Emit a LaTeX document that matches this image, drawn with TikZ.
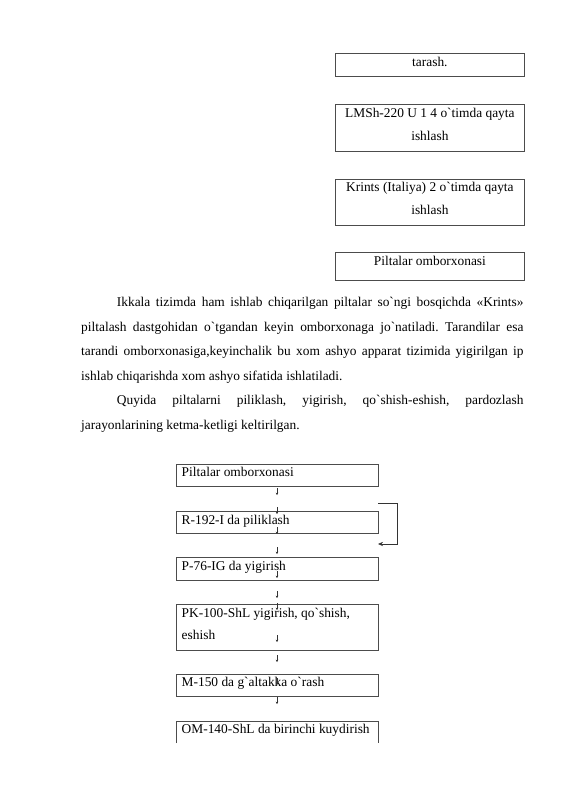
\documentclass[tikz,border=0pt]{standalone}
\usepackage{fontspec}
\setmainfont{Liberation Serif}[Ligatures=TeXOff]
\usetikzlibrary{arrows.meta}
\frenchspacing
\begin{document}
\begin{tikzpicture}[x=1pt,y=-1pt,
  font=\fontsize{13.4}{16}\selectfont,
  box/.style={draw=black!70, line width=0.7pt, rectangle, inner sep=0pt, minimum width=188.3pt},
  lbox/.style={draw=black!70, line width=0.7pt, rectangle, inner sep=0pt, minimum width=201.3pt},
  tinyarrow/.style={-{Stealth[length=2.4pt,width=2.6pt]}, line width=0.4pt, black!80},
  fbline/.style={-{Stealth[length=5pt,width=4.2pt]}, line width=0.6pt, black!80},
  ltxt/.style={anchor=base west, inner sep=0pt},
  ctxt/.style={anchor=base, inner sep=0pt}]
\useasboundingbox[fill=white] (0,0) rectangle (565,800);

% ---- upper boxes ----
\node[box, minimum height=23.4pt] (ba) at (429.9,65) {};
\node[ctxt] (ta) at (429.9,66.7) {tarash.};
\node[box, minimum height=46.7pt] (bb) at (429.9,127.7) {};
\node[ctxt] (tb1) at (429.9,117.3) {LMSh-220 U 1 4 o`timda qayta};
\node[ctxt] (tb2) at (429.9,140) {ishlash};
\node[box, minimum height=46pt] (bc) at (429.9,202) {};
\node[ctxt] (tc1) at (429.9,191.7) {Krints (Italiya) 2 o`timda qayta};
\node[ctxt] (tc2) at (429.9,214) {ishlash};
\node[box, minimum height=27.7pt] (bd) at (429.9,266.2) {};
\node[ctxt] (td) at (429.9,265.5) {Piltalar omborxonasi};

% ---- paragraph ----
\node[ltxt] (p1) at (116.7,306.7) {\makebox[406.6pt][s]{Ikkala tizimda ham ishlab chiqarilgan piltalar so`ngi bosqichda «Krints»}};
\node[ltxt] (p2) at (81,331) {\makebox[442.3pt][s]{piltalash dastgohidan o`tgandan keyin omborxonaga jo`natiladi. Tarandilar esa}};
\node[ltxt] (p3) at (81,355.5) {\makebox[442.3pt][s]{tarandi omborxonasiga,keyinchalik bu xom ashyo apparat tizimida yigirilgan ip}};
\node[ltxt] (p4) at (81,380) {ishlab chiqarishda xom ashyo sifatida ishlatiladi.};
\node[ltxt] (p5) at (116.7,404.7) {\makebox[406.6pt][s]{Quyida piltalarni piliklash, yigirish, qo`shish-eshish, pardozlash}};
\node[ltxt] (p6) at (81,429) {jarayonlarining ketma-ketligi keltirilgan.};

% ---- lower flow boxes ----
\node[lbox, minimum height=22.7pt] (b1) at (277.3,475.3) {};
\node[ltxt] (t1) at (181.5,476.7) {Piltalar omborxonasi};
\node[lbox, minimum height=22pt] (b2) at (277.3,522) {};
\node[ltxt] (t2) at (181.5,524) {R-192-I da piliklash};
\node[lbox, minimum height=23pt] (b3) at (277.3,568.5) {};
\node[ltxt] (t3) at (181.5,570) {P-76-IG da yigirish};
\node[lbox, minimum height=46.7pt] (b4) at (277.3,627.3) {};
\node[ltxt] (t4a) at (181.5,617.3) {PK-100-ShL yigirish, qo`shish,};
\node[ltxt] (t4b) at (181.5,639.5) {eshish};
\node[lbox, minimum height=22.7pt] (b5) at (277.3,685.3) {};
\node[ltxt] (t5) at (181.5,686) {M-150 da g`altakka o`rash};
% open box at the page end
\coordinate (b6bl) at (176.7,743);
\coordinate (b6br) at (378,743);
\draw[draw=black!70, line width=0.7pt] (b6bl) -- (176.7,721) -- (378,721) -- (b6br);
\node[ltxt] (t6) at (181.5,733.3) {OM-140-ShL da birinchi kuydirish};

% ---- small arrows ----
\foreach \i/\ya/\yb in {1/488/495, 2/507/514, 3/527/534, 4/547/554, 5/571/578, 6/591/598,
                         7/603/610, 8/635/642, 9/655/662, 10/678/685, 11/697/704} {
  \coordinate (s\i) at (277,\ya);
  \coordinate (e\i) at (277,\yb);
  \draw[tinyarrow] (s\i) -- (e\i);
}

% ---- feedback bracket ----
\coordinate (fbs) at (378,503);
\coordinate (fbe) at (378,544);
\draw[fbline] (fbs) -- (397,503) -- (397,544) -- (fbe);
\end{tikzpicture}
\end{document}
